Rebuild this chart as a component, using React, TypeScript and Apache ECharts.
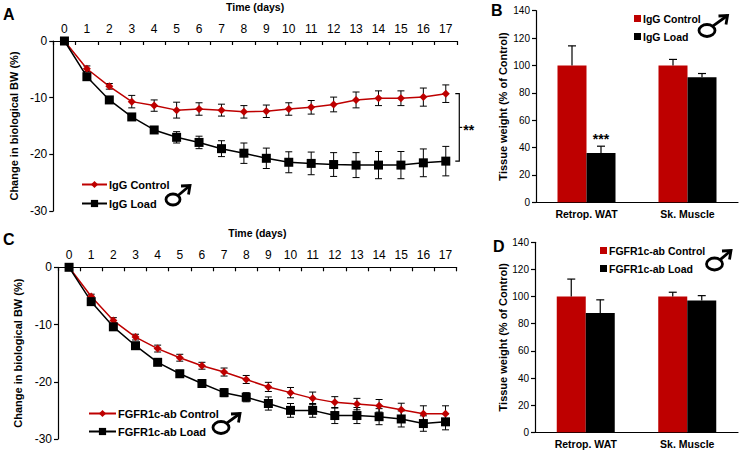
import React, { useEffect, useRef } from "react";
import * as echarts from "echarts";

// ---------- data ----------
const days = ["0","1","2","3","4","5","6","7","8","9","10","11","12","13","14","15","16","17"];
const tissues = ["Retrop. WAT", "Sk. Muscle"];

// Panel A (IgG)
const igGControlBW = [0, -4.9, -8.0, -10.7, -11.4, -12.2, -12.0, -12.2, -12.5, -12.4, -12.0, -11.7, -11.2, -10.4, -10.1, -10.1, -9.9, -9.3];
const igGControlBWErr = [0, 0.5, 0.5, 1.1, 1.0, 1.4, 1.1, 1.05, 1.1, 1.1, 1.1, 1.2, 1.3, 1.4, 1.3, 1.3, 1.6, 1.55];
const igGLoadBW = [0, -6.3, -10.4, -13.4, -15.7, -17.0, -17.9, -19.0, -19.8, -20.7, -21.4, -21.6, -21.8, -21.9, -21.9, -21.9, -21.5, -21.2];
const igGLoadBWErr = [0, 0.4, 0.4, 0.5, 0.5, 1.0, 1.1, 1.4, 1.8, 1.8, 1.85, 2.0, 2.1, 2.2, 2.4, 2.4, 2.45, 2.6];

// Panel C (FGFR1c-ab)
const fgfControlBW = [0, -5.1, -9.3, -12.2, -14.2, -15.8, -17.2, -18.3, -19.6, -20.9, -21.9, -22.9, -23.6, -23.9, -24.2, -24.9, -25.6, -25.6];
const fgfControlBWErr = [0, 0.4, 0.5, 0.5, 0.6, 0.6, 0.6, 0.7, 0.7, 0.8, 0.9, 1.1, 1.0, 1.0, 1.1, 1.15, 1.4, 1.4];
const fgfLoadBW = [0, -6.0, -10.4, -13.7, -16.6, -18.6, -20.3, -21.9, -22.7, -23.8, -25.0, -25.0, -25.9, -25.9, -26.1, -26.5, -27.3, -27.0];
const fgfLoadBWErr = [0, 0.4, 0.5, 0.5, 0.5, 0.6, 0.6, 0.7, 0.8, 1.15, 1.2, 1.2, 1.4, 1.4, 1.4, 1.4, 1.35, 1.4];

// Panel B (tissue weight, IgG)
const igGControlTissue = [100, 100];
const igGControlTissueErr = [14.3, 4.4];
const igGLoadTissue = [36, 91.3];
const igGLoadTissueErr = [5, 2.8];

// Panel D (tissue weight, FGFR1c-ab)
const fgfControlTissue = [100, 100];
const fgfControlTissueErr = [12.9, 3.2];
const fgfLoadTissue = [87.9, 97.1];
const fgfLoadTissueErr = [9.7, 3.6];

const bwTicks = { min: -30, max: 0, interval: 10 };
const tissueTicks = { min: 0, max: 140, interval: 20 };

// ---------- styling ----------
const FONT = "'Liberation Sans', Arial, Helvetica, sans-serif";
const RED = "#BE0000";
const BLACK = "#000000";
const BAR_W = 29;

function errData(means: number[], errs: number[]) {
  const out: number[][] = [];
  means.forEach((m, i) => {
    if (errs[i] > 0) out.push([i, m - errs[i], m + errs[i]]);
  });
  return out;
}

function barErrData(means: number[], errs: number[]) {
  return means.map((m, i) => [i, m, m + errs[i]]);
}

const lineErrRender = (cap: number) => (params: any, api: any) => {
  const x = api.value(0);
  const lo = api.coord([x, api.value(1)]);
  const hi = api.coord([x, api.value(2)]);
  const st = { stroke: BLACK, lineWidth: 1 };
  return {
    type: "group",
    children: [
      { type: "line", shape: { x1: lo[0], y1: lo[1], x2: hi[0], y2: hi[1] }, style: st },
      { type: "line", shape: { x1: lo[0] - cap, y1: lo[1], x2: lo[0] + cap, y2: lo[1] }, style: st },
      { type: "line", shape: { x1: hi[0] - cap, y1: hi[1], x2: hi[0] + cap, y2: hi[1] }, style: st },
    ],
  };
};

const barErrRender = (offset: number) => (params: any, api: any) => {
  const x = api.value(0);
  const base = api.coord([x, api.value(1)]);
  const top = api.coord([x, api.value(2)]);
  const px = base[0] + offset;
  const st = { stroke: BLACK, lineWidth: 1.2 };
  return {
    type: "group",
    children: [
      { type: "line", shape: { x1: px, y1: base[1], x2: px, y2: top[1] }, style: st },
      { type: "line", shape: { x1: px - 4, y1: top[1], x2: px + 4, y2: top[1] }, style: st },
    ],
  };
};

const bracketRender = (params: any, api: any) => {
  const x = api.value(0);
  const a = api.coord([x, api.value(1)]);
  const b = api.coord([x, api.value(2)]);
  const bx = a[0] + 13.5;
  const ym = (a[1] + b[1]) / 2;
  const st = { stroke: BLACK, lineWidth: 1.2, fill: "none" };
  return {
    type: "group",
    children: [
      { type: "polyline", shape: { points: [[bx - 4, a[1]], [bx, a[1]], [bx, b[1]], [bx - 4, b[1]]] }, style: st },
      { type: "line", shape: { x1: bx, y1: ym, x2: bx + 3, y2: ym }, style: st },
      {
        type: "text",
        style: {
          text: "**", x: bx + 4, y: ym + 3, fill: BLACK,
          font: `bold 14px ${FONT}`, textAlign: "left", textVerticalAlign: "middle",
        },
      },
    ],
  };
};

function male(cx: number, cy: number, rx: number, ry: number, tx: number, ty: number) {
  const st = { stroke: BLACK, lineWidth: 2.8, fill: "none" };
  return {
    type: "group",
    silent: true,
    children: [
      { type: "ellipse", shape: { cx, cy, rx, ry }, style: st },
      { type: "line", shape: { x1: cx + rx * 0.72, y1: cy - ry * 0.72, x2: tx, y2: ty }, style: st },
      { type: "polyline", shape: { points: [[tx - 9, ty + 0.5], [tx, ty], [tx - 1.5, ty + 9]] }, style: st },
    ],
  };
}

function letter(t: string, x: number, y: number) {
  return {
    type: "text",
    style: { text: t, x, y, fill: BLACK, font: `bold 16px ${FONT}`, textAlign: "left", textVerticalAlign: "middle" },
  };
}

const axisLineStyle = { lineStyle: { color: BLACK, width: 1.2 } };

function timeXAxis(gridIndex: number) {
  return {
    type: "category",
    gridIndex,
    data: days,
    position: "top",
    boundaryGap: true,
    axisLine: { show: true, onZero: false, ...axisLineStyle },
    axisTick: { show: true, inside: true, length: 4, lineStyle: { color: BLACK, width: 1.2 } },
    axisLabel: { interval: 0, margin: 6, color: BLACK, fontSize: 12, fontFamily: FONT },
    name: "Time (days)",
    nameLocation: "middle",
    nameGap: 29,
    nameTextStyle: { color: BLACK, fontSize: 10.5, fontWeight: "bold", fontFamily: FONT },
    splitLine: { show: false },
  };
}

function bwYAxis(gridIndex: number, nameGap: number) {
  return {
    type: "value",
    gridIndex,
    ...bwTicks,
    axisLine: { show: true, ...axisLineStyle },
    axisTick: { show: true, length: 4, lineStyle: { color: BLACK, width: 1.2 } },
    axisLabel: { margin: 6, color: BLACK, fontSize: 12, fontFamily: FONT },
    splitLine: { show: false },
    name: "Change in biological BW (%)",
    nameLocation: "middle",
    nameGap,
    nameTextStyle: { color: BLACK, fontSize: 11, fontWeight: "bold", fontFamily: FONT },
  };
}

function tissueXAxis(gridIndex: number) {
  return {
    type: "category",
    gridIndex,
    data: tissues,
    axisLine: { show: true, onZero: false, ...axisLineStyle },
    axisTick: { show: false },
    axisLabel: { margin: 6, color: BLACK, fontSize: 10.5, fontWeight: "bold", fontFamily: FONT },
  };
}

function tissueYAxis(gridIndex: number, nameGap: number) {
  return {
    type: "value",
    gridIndex,
    ...tissueTicks,
    axisLine: { show: true, ...axisLineStyle },
    axisTick: { show: true, length: 4, lineStyle: { color: BLACK, width: 1.2 } },
    axisLabel: { margin: 6, color: BLACK, fontSize: 10, fontFamily: FONT },
    splitLine: { show: false },
    name: "Tissue weight (% of Control)",
    nameLocation: "middle",
    nameGap,
    nameTextStyle: { color: BLACK, fontSize: 11, fontWeight: "bold", fontFamily: FONT },
  };
}

function lineSeries(name: string, data: number[], idx: number, color: string, symbol: string, size: number) {
  return {
    type: "line",
    name,
    xAxisIndex: idx,
    yAxisIndex: idx,
    data,
    symbol,
    symbolSize: size,
    color,
    itemStyle: { color },
    lineStyle: { color, width: 1.5 },
    z: 3,
  };
}

function errSeries(means: number[], errs: number[], idx: number) {
  return {
    type: "custom",
    xAxisIndex: idx,
    yAxisIndex: idx,
    data: errData(means, errs),
    encode: { x: 0, y: [1, 2] },
    renderItem: lineErrRender(3.5),
    clip: false,
    silent: true,
    z: 2,
  };
}

function barSeries(name: string, data: any[], idx: number, color: string) {
  return {
    type: "bar",
    name,
    xAxisIndex: idx,
    yAxisIndex: idx,
    data,
    barWidth: BAR_W,
    barGap: "0%",
    color,
    itemStyle: { color },
    z: 2,
  };
}

function barErr(means: number[], errs: number[], idx: number, offset: number) {
  return {
    type: "custom",
    xAxisIndex: idx,
    yAxisIndex: idx,
    data: barErrData(means, errs),
    encode: { x: 0, y: [1, 2] },
    renderItem: barErrRender(offset),
    clip: false,
    silent: true,
    z: 3,
  };
}

const legendTextA = { color: BLACK, fontSize: 11, fontWeight: "bold", fontFamily: FONT, padding: [0, 0, 0, -3] };
const legendTextB = { color: BLACK, fontSize: 10.5, fontWeight: "bold", fontFamily: FONT, padding: [0, 0, 0, -3] };

export default function App() {
  const ref = useRef<HTMLDivElement>(null);
  useEffect(() => {
    if (!ref.current) return;
    const chart = echarts.init(ref.current, undefined, { renderer: "svg" });
    const loadWat = igGLoadTissue.map((v, i) =>
      i === 0
        ? {
            value: v,
            label: {
              show: true, position: "top", distance: 7, formatter: "***",
              color: BLACK, fontSize: 14, fontWeight: "bold", fontFamily: FONT,
            },
          }
        : v
    );
    const option: any = {
      animation: false,
      backgroundColor: "#ffffff",
      textStyle: { fontFamily: FONT },
      grid: [
        { left: 53, top: 33.7, width: 404, height: 177.3 },
        { left: 536, top: 10.7, width: 202, height: 191.6 },
        { left: 58, top: 267.3, width: 398.6, height: 171.7 },
        { left: 535, top: 242.3, width: 203, height: 190 },
      ],
      xAxis: [timeXAxis(0), tissueXAxis(1), timeXAxis(2), tissueXAxis(3)],
      yAxis: [bwYAxis(0, 31), tissueYAxis(1, 28), bwYAxis(2, 26), tissueYAxis(3, 26)],
      legend: [
        {
          left: 76, top: 174, orient: "vertical", itemWidth: 25, itemHeight: 9, itemGap: 8,
          textStyle: legendTextA, data: ["IgG Control", "IgG Load"], selectedMode: false,
        },
        {
          left: 629, top: 8, orient: "vertical", itemWidth: 7, itemHeight: 7, itemGap: 7,
          textStyle: legendTextB, selectedMode: false,
          itemStyle: { borderWidth: 0 },
          data: [{ name: "IgG Control", icon: "rect" }, { name: "IgG Load", icon: "rect" }],
        },
        {
          left: 83, top: 403, orient: "vertical", itemWidth: 27, itemHeight: 9, itemGap: 7,
          textStyle: legendTextA, data: ["FGFR1c-ab Control", "FGFR1c-ab Load"], selectedMode: false,
        },
        {
          left: 595, top: 240, orient: "vertical", itemWidth: 7, itemHeight: 7, itemGap: 7,
          textStyle: legendTextB, selectedMode: false,
          itemStyle: { borderWidth: 0 },
          data: [{ name: "FGFR1c-ab Control", icon: "rect" }, { name: "FGFR1c-ab Load", icon: "rect" }],
        },
      ],
      series: [
        // A
        errSeries(igGControlBW, igGControlBWErr, 0),
        errSeries(igGLoadBW, igGLoadBWErr, 0),
        lineSeries("IgG Control", igGControlBW, 0, RED, "diamond", 8),
        lineSeries("IgG Load", igGLoadBW, 0, BLACK, "rect", 9),
        {
          type: "custom",
          xAxisIndex: 0,
          yAxisIndex: 0,
          data: [[days.length - 1, igGControlBW[days.length - 1], igGLoadBW[days.length - 1]]],
          encode: { x: 0, y: [1, 2] },
          renderItem: bracketRender,
          clip: false,
          silent: true,
        },
        // B
        barSeries("IgG Control", igGControlTissue, 1, RED),
        barSeries("IgG Load", loadWat, 1, BLACK),
        barErr(igGControlTissue, igGControlTissueErr, 1, -BAR_W / 2),
        barErr(igGLoadTissue, igGLoadTissueErr, 1, BAR_W / 2),
        // C
        errSeries(fgfControlBW, fgfControlBWErr, 2),
        errSeries(fgfLoadBW, fgfLoadBWErr, 2),
        lineSeries("FGFR1c-ab Control", fgfControlBW, 2, RED, "diamond", 8),
        lineSeries("FGFR1c-ab Load", fgfLoadBW, 2, BLACK, "rect", 9),
        // D
        barSeries("FGFR1c-ab Control", fgfControlTissue, 3, RED),
        barSeries("FGFR1c-ab Load", fgfLoadTissue, 3, BLACK),
        barErr(fgfControlTissue, fgfControlTissueErr, 3, -BAR_W / 2),
        barErr(fgfLoadTissue, fgfLoadTissueErr, 3, BAR_W / 2),
      ],
      graphic: [
        letter("A", 3, 14),
        letter("B", 491, 10),
        letter("C", 3, 239),
        letter("D", 493, 246),
        male(173, 199.5, 7, 5.5, 190, 185.5),
        male(707, 30.5, 8, 6, 727.5, 15.5),
        male(221, 427.5, 8, 6, 240, 413.5),
        male(714.5, 264, 8, 6, 731, 250.5),
      ],
    };
    chart.setOption(option);
    return () => chart.dispose();
  }, []);
  return (
    <div
      ref={ref}
      style={{ position: "fixed", left: 0, top: 0, width: 739, height: 452, background: "#fff" }}
    />
  );
}
